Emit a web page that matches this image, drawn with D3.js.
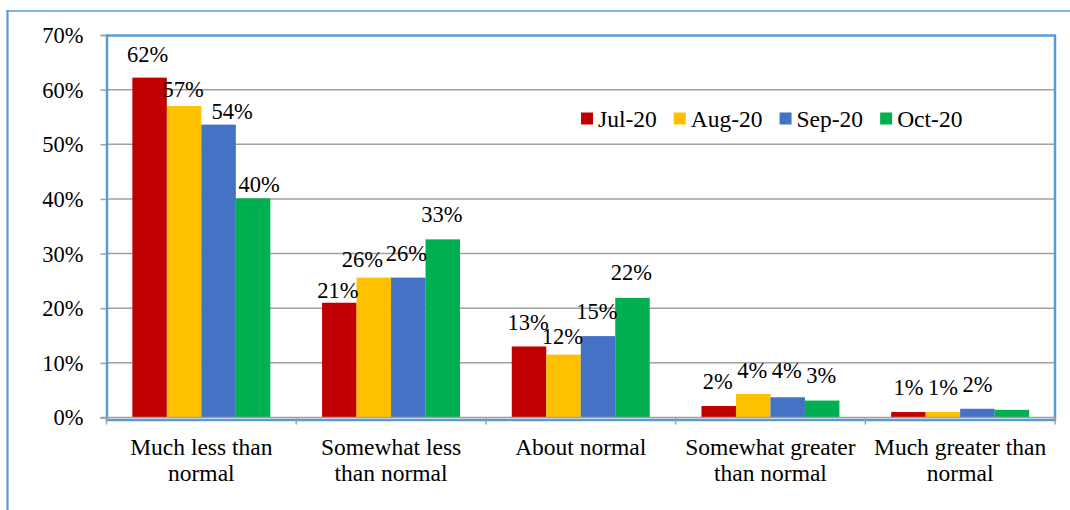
<!DOCTYPE html>
<html><head><meta charset="utf-8">
<script src="https://cdn.jsdelivr.net/npm/d3@7"></script>
<style>
html,body{margin:0;padding:0;background:#fff;}
svg{display:block;}
</style></head>
<body>
<svg id="chart" width="1070" height="510"></svg>
<script>
// ---- data ----
const categories = [["Much less than","normal"],["Somewhat less","than normal"],["About normal"],["Somewhat greater","than normal"],["Much greater than","normal"]];
const seriesNames = ["Jul-20","Aug-20","Sep-20","Oct-20"];
const jul20 = [0.622, 0.210, 0.130, 0.021, 0.010];
const aug20 = [0.570, 0.256, 0.115, 0.043, 0.010];
const sep20 = [0.536, 0.256, 0.149, 0.037, 0.016];
const oct20 = [0.401, 0.326, 0.219, 0.031, 0.014];
const showLabel = [[true,true,true,true],[true,true,true,true],[true,true,true,true],[true,true,true,true],[true,true,true,false]];
const yTicks = [0,0.1,0.2,0.3,0.4,0.5,0.6,0.7];
const colors = ["#C00000","#FFC000","#4472C4","#00B050"];

// manual label placement (as in the source chart): [dx, gap above bar]
const labelNudge = {
  "0-0":[-2,16],"0-1":[-1,9],"0-2":[13.5,6],"0-3":[6,6.5],
  "1-0":[-1.5,5],"1-1":[-11.5,11],"1-2":[-2,17],"1-3":[-1,17],
  "2-0":[-1,16.5],"2-1":[-1,11],"2-2":[-1,17.5],"2-3":[-1,18],
  "3-0":[-1,17],"3-1":[-1,16],"3-2":[-1,19],"3-3":[-1,17.5],
  "4-0":[0,17],"4-1":[0,17],"4-2":[0,17]
};

const FONT = "'Liberation Serif', 'Times New Roman', Times, serif";
const seriesVals = [jul20, aug20, sep20, oct20];
const svg = d3.select("#chart");
const L = 106.5, R = 1055, T = 35, B = 417.5;

// outer frame
svg.append("line").attr("x1",7.5).attr("x2",7.5).attr("y1",10).attr("y2",510).attr("stroke","#5B9BD5").attr("stroke-width",2.2);
svg.append("line").attr("x1",6.5).attr("x2",1070).attr("y1",11).attr("y2",11).attr("stroke","#5B9BD5").attr("stroke-width",1.5);

const catIdx = categories.map((d,i)=>i);
const x0 = d3.scaleBand().domain(catIdx).range([L, R]).padding(0);
const x1 = d3.scaleBand().domain(seriesNames).range([0, x0.bandwidth()]).paddingInner(0).paddingOuter(0.75);
const y = d3.scaleLinear().domain([0,0.7]).range([B, T]);

// gridlines
svg.append("g").selectAll("line").data(yTicks.filter(t=>t>0&&t<0.7)).join("line")
  .attr("x1",L).attr("x2",R).attr("y1",d=>y(d)).attr("y2",d=>y(d))
  .attr("stroke","#A0A0A0").attr("stroke-width",1.5);

// y axis
const yAxis = d3.axisLeft(y).tickValues(yTicks).tickFormat(d3.format(".0%")).tickSize(6).tickPadding(17);
const gy = svg.append("g").attr("transform",`translate(${L},0)`).call(yAxis);
gy.select(".domain").attr("stroke","#8EA9C8").attr("stroke-width",1.5);
gy.selectAll(".tick line").attr("stroke","#A0A0A0").attr("stroke-width",1.5);
gy.selectAll(".tick text").style("font-family",FONT).style("font-size","22.5px").attr("dy","0.33em").attr("fill","#000");

// bars
const groups = svg.append("g").selectAll("g").data(catIdx).join("g")
  .attr("transform",i=>`translate(${x0(i)},0)`);
groups.selectAll("rect").data(i=>seriesNames.map((s,j)=>({i,j,s,v:seriesVals[j][i]}))).join("rect")
  .attr("x",d=>x1(d.s)).attr("width",x1.bandwidth())
  .attr("y",d=>y(d.v)).attr("height",d=>B-y(d.v))
  .attr("fill",d=>colors[d.j]);

// frame of plot area
svg.append("rect").attr("x",L+0.5).attr("y",T+0.5).attr("width",R-L-0.5).attr("height",B-T+2)
  .attr("fill","none").attr("stroke","#5B9BD5").attr("stroke-width",2.5);

// x axis
const xAxisLine = svg.append("g");
xAxisLine.append("line").attr("x1",L-6).attr("x2",R).attr("y1",B).attr("y2",B).attr("stroke","#A0A0A0").attr("stroke-width",1.5);
const bounds = catIdx.map(i=>x0(i)).concat([R]);
xAxisLine.selectAll("line.tk").data(bounds).join("line").attr("class","tk")
  .attr("x1",d=>d).attr("x2",d=>d).attr("y1",B).attr("y2",B+7).attr("stroke","#A0A0A0").attr("stroke-width",1.5);

// category labels
const catG = svg.append("g").selectAll("text").data(catIdx).join("text")
  .attr("x",i=>x0(i)+x0.bandwidth()/2).attr("y",455).attr("text-anchor","middle")
  .style("font-family",FONT).style("font-size","23.5px").attr("fill","#000");
catG.selectAll("tspan").data(i=>categories[i].map((t,k)=>({t,k,i}))).join("tspan")
  .attr("x",d=>x0(d.i)+x0.bandwidth()/2).attr("y",d=>455+d.k*26).text(d=>d.t);

// data labels
const fmt = d3.format(".0%");
groups.selectAll("text").data(i=>seriesNames.map((s,j)=>({i,j,s,v:seriesVals[j][i]})).filter(d=>showLabel[d.i][d.j])).join("text")
  .attr("x",d=>x1(d.s)+x1.bandwidth()/2+(labelNudge[d.i+"-"+d.j]||[0,17])[0])
  .attr("y",d=>y(d.v)-(labelNudge[d.i+"-"+d.j]||[0,17])[1])
  .attr("text-anchor","middle").style("font-family",FONT).style("font-size","22.5px").attr("fill","#000").text(d=>fmt(d.v));

// legend
const leg = svg.append("g").attr("transform","translate(581,112.5)");
let lx = 0;
seriesNames.forEach((s,j)=>{
  const g = leg.append("g").attr("transform",`translate(${lx},0)`);
  g.append("rect").attr("width",12).attr("height",12).attr("fill",colors[j]);
  const t = g.append("text").attr("x",17).attr("y",14.2).style("font-family",FONT).style("font-size","23.5px").attr("fill","#000").text(s);
  lx += 17 + t.node().getComputedTextLength() + 17;
});
</script>
</body></html>
